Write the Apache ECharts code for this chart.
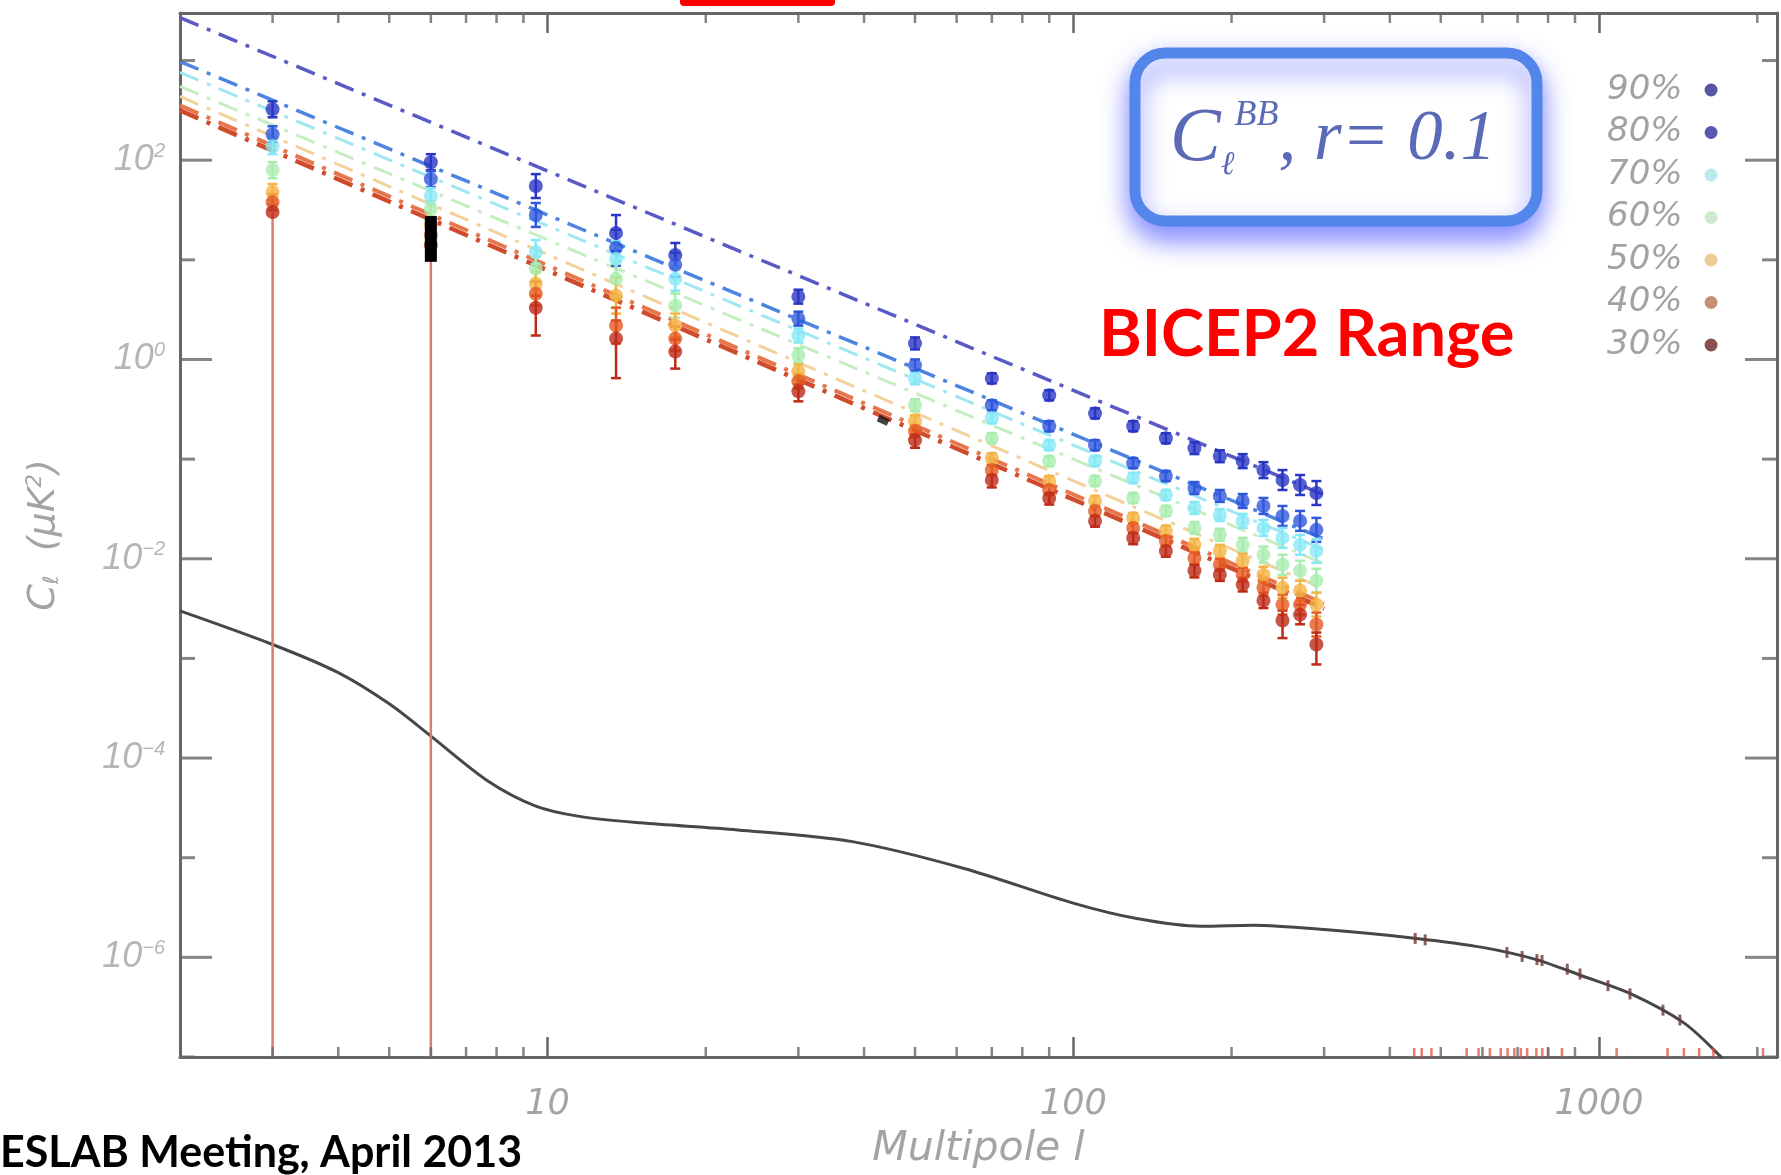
<!DOCTYPE html>
<html>
<head>
<meta charset="utf-8">
<script src="https://cdn.jsdelivr.net/npm/echarts@6.0.0/dist/echarts.min.js"></script>
<style>html,body{margin:0;padding:0;background:#fff}#c{width:1781px;height:1175px}</style>
</head>
<body>
<div id="c"></div>
<script>
// ---------------- data ----------------
const X_MIN = 2, X_MAX = 2180, Y_MIN = 1e-7, Y_MAX = 3000;

const ells = [3, 6, 9.5, 13.5, 17.5, 30, 50, 70, 90, 110, 130, 150, 170, 190, 210, 230, 250, 270, 290];
const levels = ['90%', '80%', '70%', '60%', '50%', '40%', '30%'];

const cl90 = [324, 95.5, 55.0, 18.6, 11.2, 4.27, 1.45, 0.646, 0.437, 0.288, 0.214, 0.162, 0.129, 0.107, 0.0955, 0.0776, 0.0617, 0.0550, 0.0457];
const cl80 = [182, 64.6, 28.2, 13.2, 8.91, 2.57, 0.871, 0.347, 0.214, 0.138, 0.0912, 0.0676, 0.0513, 0.0427, 0.0380, 0.0339, 0.0269, 0.0240, 0.0195];
const cl70 = [138, 43.7, 12.0, 10.2, 6.46, 1.74, 0.646, 0.257, 0.138, 0.0955, 0.0646, 0.0437, 0.0324, 0.0275, 0.0240, 0.0204, 0.0162, 0.0138, 0.0120];
const cl60 = [79.4, 32.4, 8.13, 6.46, 3.47, 1.10, 0.347, 0.162, 0.0955, 0.0603, 0.0407, 0.0302, 0.0204, 0.0174, 0.0138, 0.0110, 0.00871, 0.00759, 0.00603];
const cl50 = [47.9, 22.4, 5.75, 4.37, 2.19, 0.759, 0.240, 0.102, 0.0603, 0.0380, 0.0257, 0.0191, 0.0138, 0.0120, 0.00955, 0.00692, 0.00513, 0.00479, 0.00347];
const cl40 = [38.0, 17.8, 4.57, 2.19, 1.62, 0.603, 0.191, 0.0776, 0.0490, 0.0302, 0.0204, 0.0151, 0.0102, 0.00871, 0.00692, 0.00513, 0.00347, 0.00347, 0.00219];
const cl30 = [30.2, 14.1, 3.31, 1.62, 1.20, 0.479, 0.155, 0.0617, 0.0407, 0.0240, 0.0162, 0.0120, 0.00759, 0.00692, 0.00550, 0.00380, 0.00240, 0.00275, 0.00138];

// error-bar half widths in dex (per bin), and lower ends of the 30% bars (0 = reaches zero)
const errDex = [0.08, 0.08, 0.12, 0.18, 0.12, 0.07, 0.06, 0.05, 0.05, 0.05, 0.05, 0.05, 0.06, 0.06, 0.07, 0.08, 0.1, 0.1, 0.12];
const low30 = [0, 0, 1.74, 0.65, 0.81, 0.38, 0.13, 0.052, 0.035, 0.021, 0.014, 0.0105, 0.0065, 0.006, 0.0047, 0.0032, 0.0016, 0.0022, 0.00087];

// dash-dot power-law fits: values at l = 2 and l = 300
const fitL = [2, 300];
const fit90 = [2690, 0.0437];
const fit80 = [977, 0.0158];
const fit70 = [759, 0.0123];
const fit60 = [550, 0.00891];
const fit50 = [437, 0.0050];
const fit40 = [355, 0.00355];
const fit30 = [316, 0.00316];

// black model curve
const lensL = [2, 3, 4, 5, 6, 7.7, 9.5, 11.5, 15, 23, 38, 62, 100, 132, 175, 220, 300, 450, 600, 760, 930, 1150, 1450, 1700, 1800];
const lensC = [3.0e-3, 1.38e-3, 7.2e-4, 3.5e-4, 1.66e-4, 5.9e-5, 3.3e-5, 2.6e-5, 2.24e-5, 1.9e-5, 1.45e-5, 7.8e-6, 3.5e-6, 2.45e-6, 2.05e-6, 2.1e-6, 1.9e-6, 1.55e-6, 1.26e-6, 9.5e-7, 6.5e-7, 4.3e-7, 2.2e-7, 1.02e-7, 7e-8];

// small high-l points on the curve
const hiL = [447, 467, 668, 714, 762, 779, 870, 920, 1040, 1145, 1323, 1425];
const hiC = [1.55e-6, 1.5e-6, 1.12e-6, 1.02e-6, 9.5e-7, 9.3e-7, 7.6e-7, 6.8e-7, 5.2e-7, 4.3e-7, 2.95e-7, 2.35e-7];
// points that fall below the plotted range (shown at the bottom axis)
const floorL = [445, 460, 480, 560, 590, 620, 650, 670, 690, 710, 730, 760, 780, 800, 850, 1080, 1350, 1450, 1550, 1650, 2050];

// black marks
const blackBar = [[6, 9.55, 27.5]];
const blackDot = [[43.5, 0.245]];

// tick positions
const yTickVals = [1e-7, 1e-6, 1e-5, 1e-4, 1e-3, 1e-2, 1e-1, 1, 10, 100, 1000];
const xMinorVals = [3, 4, 5, 6, 7, 8, 9, 20, 30, 40, 50, 60, 70, 80, 90, 200, 300, 400, 500, 600, 700, 800, 900, 2000];

// ---------------- styles ----------------
const dotColors = ['#2a36c4', '#2f58dc', '#86e8f6', '#a9eeae', '#f4b446', '#e35a22', '#bd2a18'];
const legendDot = ['#2b2b8c', '#2e2e9e', '#a6e6e8', '#c3e3c3', '#e6c07a', '#b57452', '#6b2424'];
const lineColors = ['#5a5ac6', '#4d84e2', '#9fe7f1', '#c6ecc2', '#f4d19c', '#e8764c', '#cf4b2c'];
const lineWidths = [3.5, 3.5, 3, 3, 3, 4, 4.5];
const AX = '#666666';
const LBL = '#a4a4a4';
const LBLFONT = 'DejaVu Sans';

const clVals = [cl90, cl80, cl70, cl60, cl50, cl40, cl30];
const fits = [fit90, fit80, fit70, fit60, fit50, fit40, fit30];

function isDecade(v) {
  const e = Math.log10(v);
  return Math.abs(e - Math.round(e)) < 1e-6;
}

function errRender(lw, cap) {
  return function (params, api) {
    const l = api.value(0), lo = api.value(1), hi = api.value(2);
    const top = api.coord([l, hi]);
    const cs = params.coordSys;
    const bottomY = lo > 0 ? api.coord([l, lo])[1] : cs.y + cs.height;
    const color = api.visual('color');
    const st = { stroke: color, lineWidth: lw };
    const ch = [{ type: 'line', shape: { x1: top[0], y1: top[1], x2: top[0], y2: bottomY }, style: st }];
    if (cap) {
      ch.push({ type: 'line', shape: { x1: top[0] - cap, y1: top[1], x2: top[0] + cap, y2: top[1] }, style: st });
      if (lo > 0) ch.push({ type: 'line', shape: { x1: top[0] - cap, y1: bottomY, x2: top[0] + cap, y2: bottomY }, style: st });
    }
    return { type: 'group', children: ch };
  };
}

const series = [];
// dots
levels.forEach((name, k) => {
  series.push({
    name, type: 'scatter', z: 5,
    data: ells.map((l, i) => [l, clVals[k][i]]),
    symbol: 'circle', symbolSize: 14,
    itemStyle: { color: dotColors[k] }
  });
});
// error bars
levels.forEach((name, k) => {
  const data = ells.map((l, i) => {
    const v = clVals[k][i];
    const f = Math.pow(10, errDex[i]);
    let lo = v / f;
    if (name === '30%') lo = low30[i];
    const item = { value: [l, lo, v * f] };
    if (lo === 0) item.itemStyle = { color: '#d47f6c' };
    return item;
  });
  series.push({
    name, type: 'custom', z: 4, silent: true,
    renderItem: errRender(2.5, 5),
    encode: { x: 0, y: 2 },
    itemStyle: { color: dotColors[k] },
    data
  });
});
// power-law fits
levels.forEach((name, k) => {
  series.push({
    name, type: 'line', z: 3, silent: true,
    data: fitL.map((l, i) => [l, fits[k][i]]),
    showSymbol: false, symbol: 'none',
    lineStyle: { color: lineColors[k], width: lineWidths[k], type: [20, 9, 4, 9] },
    itemStyle: { color: lineColors[k] }
  });
});
// black model curve
series.push({
  name: 'model', type: 'line', z: 3, silent: true,
  data: lensL.map((l, i) => [l, lensC[i]]),
  smooth: 0.3, showSymbol: false, symbol: 'none',
  lineStyle: { color: '#474747', width: 3 }
});
// black marks
series.push({
  name: 'black', type: 'custom', z: 6, silent: true,
  renderItem: errRender(12, 0), encode: { x: 0, y: 2 },
  itemStyle: { color: '#000' }, data: blackBar
});
series.push({
  name: 'blackdot', type: 'scatter', z: 6, silent: true,
  data: blackDot, symbol: 'rect', symbolSize: [11, 7], symbolRotate: -25,
  itemStyle: { color: '#111' }
});
// high-l points on the curve
series.push({
  name: 'hiL', type: 'scatter', z: 6, silent: true,
  data: hiL.map((l, i) => [l, hiC[i]]),
  symbol: 'rect', symbolSize: [3, 11], itemStyle: { color: '#6b3a3a' }
});
series.push({
  name: 'floor', type: 'scatter', z: 6, silent: true, clip: false,
  data: floorL.map(l => [l, Y_MIN]),
  symbol: 'rect', symbolSize: [2.5, 9], symbolOffset: [0, -4.5],
  itemStyle: { color: '#e0503c', opacity: 0.75 }
});
// axis ticks drawn through the axes' own scales
series.push({
  name: 'yTicksLeft', type: 'scatter', z: 7, silent: true, clip: false,
  data: yTickVals.map(v => {
    const e = Math.round(Math.log10(v));
    const even = e % 2 === 0;
    return {
      value: [X_MIN, v],
      symbolSize: even ? [32, 3] : [15, 3],
      symbolOffset: even ? [16, 0] : [7.5, 0],
      label: { show: even }
    };
  }),
  symbol: 'rect', itemStyle: { color: AX },
  label: {
    show: true, position: 'left', distance: 15,
    formatter: p => {
      const e = Math.round(Math.log10(p.value[1]));
      return '{b|10}{s|' + (e < 0 ? '\u2212' + (-e) : e) + '}';
    },
    rich: {
      b: { fontSize: 36, fontStyle: 'italic', fontFamily: 'Liberation Sans', color: LBL, lineHeight: 38 },
      s: { fontSize: 20, fontStyle: 'italic', fontFamily: 'Liberation Sans', color: LBL, verticalAlign: 'top', lineHeight: 20 }
    }
  }
});
series.push({
  name: 'yTicksRight', type: 'scatter', z: 7, silent: true, clip: false,
  data: yTickVals.map(v => {
    const e = Math.round(Math.log10(v));
    const even = e % 2 === 0;
    return { value: [X_MAX, v], symbolSize: even ? [32, 3] : [15, 3], symbolOffset: even ? [-16, 0] : [-7.5, 0] };
  }),
  symbol: 'rect', itemStyle: { color: AX }
});
series.push({
  name: 'xMinorBottom', type: 'scatter', z: 7, silent: true, clip: false,
  data: xMinorVals.map(v => [v, Y_MIN]),
  symbol: 'rect', symbolSize: [2.5, 10], symbolOffset: [0, -5], itemStyle: { color: AX }
});
series.push({
  name: 'xMinorTop', type: 'scatter', z: 7, silent: true, clip: false,
  data: xMinorVals.map(v => [v, Y_MAX]),
  symbol: 'rect', symbolSize: [2.5, 10], symbolOffset: [0, 5], itemStyle: { color: AX }
});

const axisLine = { show: true, onZero: false, lineStyle: { color: AX, width: 3 } };

const option = {
  backgroundColor: '#ffffff',
  animation: false,
  grid: { left: 180, right: 4, top: 13, bottom: 113 },
  legend: {
    data: levels.map((n, i) => ({ name: n, icon: 'circle', itemStyle: { color: legendDot[i] } })),
    orient: 'vertical', left: 1602, top: 68, align: 'right',
    itemWidth: 13, itemHeight: 13, itemGap: 8.5, selectedMode: false,
    textStyle: { fontSize: 34, fontStyle: 'italic', fontFamily: LBLFONT, color: '#a2a2a2', lineHeight: 34, padding: [0, 17, 0, 0] }
  },
  xAxis: [
    {
      type: 'log', logBase: 10, min: X_MIN, max: X_MAX, position: 'bottom',
      axisLine,
      axisTick: { show: true, inside: true, length: 20, lineStyle: { color: AX, width: 2.5 } },
      axisLabel: {
        interval: 0, margin: 30, color: LBL, fontFamily: LBLFONT, fontStyle: 'italic', fontSize: 35,
        formatter: v => (isDecade(v) ? String(Math.round(v)) : '')
      },
      splitLine: { show: false },
      name: 'Multipole l', nameLocation: 'middle', nameGap: 72,
      nameTextStyle: { fontSize: 41, fontStyle: 'italic', fontFamily: LBLFONT, color: LBL }
    },
    {
      type: 'log', logBase: 10, min: X_MIN, max: X_MAX, position: 'top',
      axisLine,
      axisTick: { show: true, inside: true, length: 20, lineStyle: { color: AX, width: 2.5 } },
      axisLabel: { show: false },
      splitLine: { show: false }
    }
  ],
  yAxis: [
    {
      type: 'log', logBase: 10, min: Y_MIN, max: Y_MAX, position: 'left',
      axisLine, axisTick: { show: false }, axisLabel: { show: false }, splitLine: { show: false },
      name: 'C{i|\u2113}  (\u03bcK{s|2})', nameLocation: 'middle', nameGap: 117,
      nameTextStyle: {
        fontSize: 38, fontStyle: 'italic', fontFamily: LBLFONT, color: LBL,
        rich: {
          i: { fontSize: 21, fontStyle: 'italic', fontFamily: LBLFONT, color: LBL, verticalAlign: 'bottom' },
          s: { fontSize: 21, fontStyle: 'italic', fontFamily: LBLFONT, color: LBL, verticalAlign: 'top' }
        }
      }
    },
    {
      type: 'log', logBase: 10, min: Y_MIN, max: Y_MAX, position: 'right',
      axisLine, axisTick: { show: false }, axisLabel: { show: false }, splitLine: { show: false }
    }
  ],
  graphic: [
    { type: 'rect', z: 10, shape: { x: 680, y: -12, width: 155, height: 18, r: 4 }, style: { fill: '#ff0000' } },
    {
      type: 'rect', z: 10,
      shape: { x: 1135, y: 53, width: 402, height: 168, r: 30 },
      style: { fill: '#ffffff', stroke: '#5286ea', lineWidth: 11, shadowBlur: 26, shadowColor: 'rgba(80,90,255,0.7)', shadowOffsetY: 13 }
    },
    {
      type: 'text', z: 11, x: 1170, y: 140,
      style: {
        text: '{c|C}{l|\u2113}{b|BB}{r|, r= 0.1}',
        verticalAlign: 'middle',
        rich: {
          c: { fontSize: 76, fontStyle: 'italic', fontFamily: 'Liberation Serif', fill: '#5a6ab6', lineHeight: 84 },
          l: { fontSize: 33, fontStyle: 'italic', fontFamily: 'Liberation Serif', fill: '#5a6ab6', verticalAlign: 'bottom', lineHeight: 36 },
          b: { fontSize: 36, fontStyle: 'italic', fontFamily: 'Liberation Serif', fill: '#5a6ab6', verticalAlign: 'top', lineHeight: 42 },
          r: { fontSize: 71, fontStyle: 'italic', fontFamily: 'Liberation Serif', fill: '#5a6ab6', lineHeight: 84 }
        }
      }
    },
    {
      type: 'text', z: 11, x: 1099, y: 335,
      style: { text: 'BICEP2 Range', fontSize: 65, fontWeight: 'bold', fontFamily: 'Lato', fill: '#ff0000', verticalAlign: 'middle' }
    },
    {
      type: 'text', z: 11, x: 0, y: 1153,
      style: { text: 'ESLAB Meeting, April 2013', fontSize: 43, fontWeight: 'bold', fontFamily: 'Lato', fill: '#000000', verticalAlign: 'middle' }
    }
  ],
  series
};

const chart = echarts.init(document.getElementById('c'), null, { renderer: 'canvas' });
chart.setOption(option);
</script>
</body>
</html>
